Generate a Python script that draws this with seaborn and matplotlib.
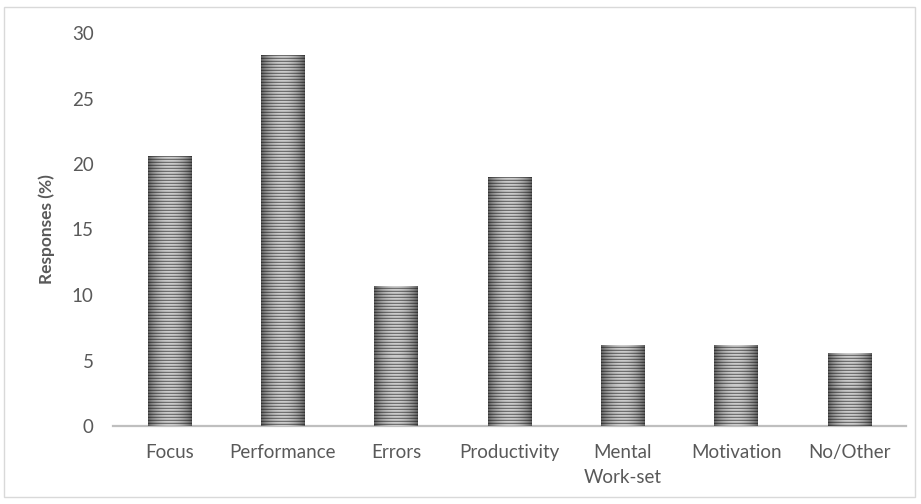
import numpy as np
import pandas as pd
import matplotlib
matplotlib.use("Agg")
import matplotlib.pyplot as plt
from matplotlib.patches import Rectangle
import seaborn as sns

categories = ["Focus", "Performance", "Errors", "Productivity",
              "Mental\nWork-set", "Motivation", "No/Other"]
responses = [20.6, 28.3, 10.7, 19.0, 6.2, 6.2, 5.6]
y_ticks = [0, 5, 10, 15, 20, 25, 30]

df = pd.DataFrame({"category": categories, "responses": responses})

sns.set_theme(style="white")
plt.rcParams["font.family"] = ["Lato", "DejaVu Sans"]

DPI = 100
fig = plt.figure(figsize=(9.21, 5.04), dpi=DPI)
W, H = 921, 504
ax = fig.add_axes([113 / W, (H - 426) / H, (906 - 113) / W, (426 - 33) / H])

sns.barplot(data=df, x="category", y="responses", ax=ax, width=0.385,
            color="#888888", saturation=1, linewidth=0)

ax.set_ylim(0, 30)
ax.set_xlim(-0.5, len(categories) - 0.5)
ax.set_yticks(y_ticks)
ax.set_yticklabels([str(t) for t in y_ticks])
ax.set_xlabel("")
ax.set_ylabel("Responses (%)", fontsize=12.5, fontweight="bold", color="#595959",
              labelpad=12)

for side in ["left", "right", "top"]:
    ax.spines[side].set_visible(False)
ax.spines["bottom"].set_color("#bfbfbf")
ax.spines["bottom"].set_linewidth(1.6)
ax.tick_params(axis="both", length=0, colors="#595959", labelsize=13.5)
ax.tick_params(axis="y", pad=14)
ax.tick_params(axis="x", pad=13)
for lbl in ax.get_xticklabels():
    lbl.set_linespacing(1.55)
ax.grid(False)

# striped, edge-shaded fill for each bar
px_per_unit = (426 - 33) / 30.0
for patch in ax.patches:
    x0, y0 = patch.get_x(), patch.get_y()
    w, h = patch.get_width(), patch.get_height()
    hp = max(int(round(h * px_per_unit)), 1)
    wp = 44
    cols = np.linspace(0, 1, wp)
    shade = 0.38 + 0.42 * np.sin(np.pi * cols) ** 0.8
    rows = np.arange(hp)
    stripe = np.where(rows % 3 == 0, 0.55, np.where(rows % 3 == 1, 1.0, 0.9))
    tex = np.clip(stripe[:, None] * shade[None, :], 0, 1)
    img = np.dstack([tex, tex, tex])
    im = ax.imshow(img, extent=(x0, x0 + w, y0, y0 + h), origin="upper",
                   interpolation="nearest", aspect="auto", zorder=3)
    im.set_clip_path(patch)
    patch.set_facecolor("none")
ax.set_xlim(-0.5, len(categories) - 0.5)
ax.set_ylim(0, 30)

# chart area border
fig.patches.append(Rectangle((4 / W, (H - 497) / H), (915 - 4) / W, (497 - 7) / H,
                             transform=fig.transFigure, fill=False,
                             edgecolor="#d9d9d9", linewidth=1.0))

fig.savefig("out.png", dpi=DPI, facecolor="white")
